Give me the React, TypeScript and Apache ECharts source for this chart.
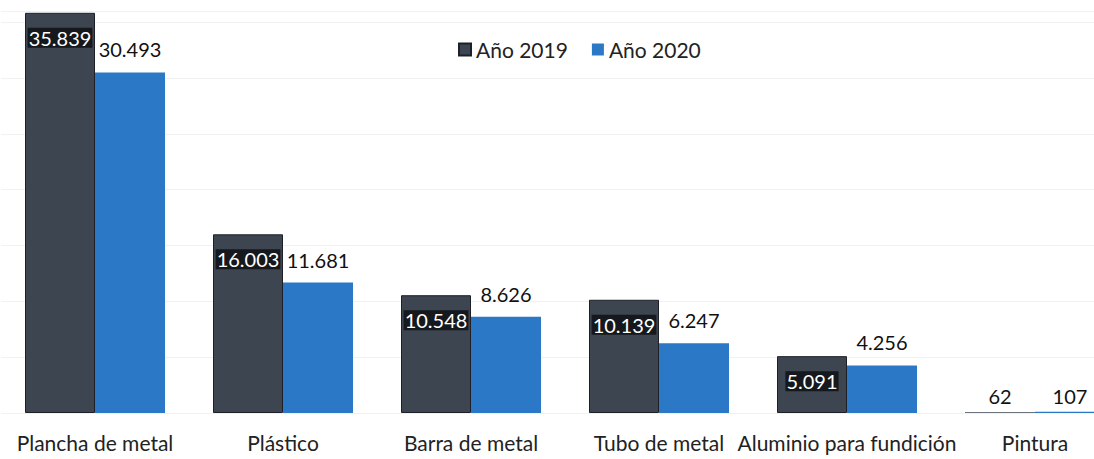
import React, { useEffect, useRef } from "react";
import * as echarts from "echarts";

const categories = ["Plancha de metal", "Plástico", "Barra de metal", "Tubo de metal", "Aluminio para fundición", "Pintura"];
const values2019 = [35839, 16003, 10548, 10139, 5091, 62];
const values2020 = [30493, 11681, 8626, 6247, 4256, 107];
const seriesNames = ["Año 2019", "Año 2020"];

const fmt = (v: number) => {
  const s = String(Math.round(v));
  return s.replace(/\B(?=(\d{3})+(?!\d))/g, ".");
};

const FONT = "Lato, 'Open Sans', sans-serif";

export default function App() {
  const ref = useRef<HTMLDivElement>(null);
  useEffect(() => {
    if (!ref.current) return;
    const chart = echarts.init(ref.current, null, { renderer: "svg" });
    chart.setOption({
      animation: false,
      textStyle: { fontFamily: FONT },
      legend: {
        data: seriesNames,
        top: 34,
        left: 453,
        itemWidth: 12,
        itemHeight: 12,
        itemGap: 24,
        icon: "rect",
        textStyle: { fontSize: 21, color: "#222", fontFamily: FONT },
      },
      grid: { left: 1, right: 1, top: 11, bottom: 46, containLabel: false },
      xAxis: {
        type: "category",
        data: categories,
        axisLine: { show: false },
        axisTick: { show: false },
        axisLabel: { fontSize: 21, color: "#222", margin: 19, fontFamily: FONT, interval: 0 },
      },
      yAxis: {
        type: "value",
        min: 0,
        max: 36000,
        interval: 5000,
        axisLabel: { show: false },
        axisLine: { show: false },
        axisTick: { show: false },
        splitLine: { lineStyle: { color: "#f1f1f1", width: 1 } },
      },
      series: [
        {
          name: seriesNames[0],
          type: "bar",
          barWidth: 70,
          barGap: "0%",
          itemStyle: { color: "#3d4550", borderColor: "#1d2127", borderWidth: 1 },
          data: values2019.map((v, i) =>
            i === 5
              ? {
                  value: v,
                  itemStyle: { borderWidth: 0 },
                  label: { position: "top", color: "#111", backgroundColor: "transparent", distance: 6 },
                }
              : v
          ),
          label: {
            show: true,
            position: "insideTop",
            distance: 15,
            fontSize: 20,
            color: "#fff",
            backgroundColor: "#15181c",
            padding: [0, 1, 0, 1],
            fontFamily: FONT,
            formatter: (p: any) => fmt(p.value),
          },
        },
        {
          name: seriesNames[1],
          type: "bar",
          barWidth: 70,
          itemStyle: { color: "#2b78c6" },
          data: values2020.map((v, i) =>
            i === 5 ? { value: v, label: { distance: 6 } } : v
          ),
          label: {
            show: true,
            position: "top",
            distance: 13,
            fontSize: 20,
            color: "#111",
            fontFamily: FONT,
            formatter: (p: any) => fmt(p.value),
          },
        },
      ],
    });
    return () => chart.dispose();
  }, []);
  return (
    <div style={{ position: "fixed", left: 0, top: 0, width: 1094, height: 459, overflow: "hidden", background: "#fff" }}>
      <div ref={ref} style={{ width: 1130, height: 459 }} />
    </div>
  );
}
